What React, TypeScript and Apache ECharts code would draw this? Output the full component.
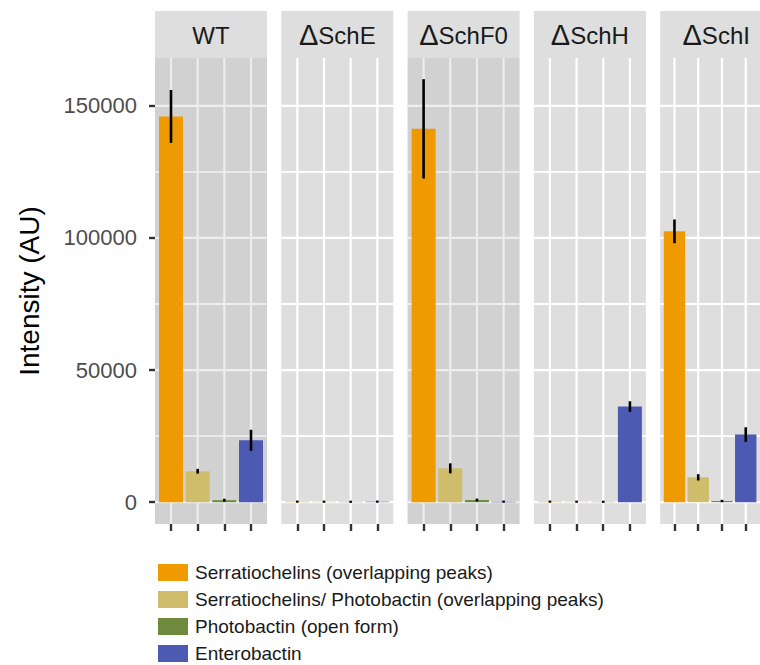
import React, { useEffect, useRef } from "react";
import * as echarts from "echarts";

const panels = ["WT", "ΔSchE", "ΔSchF0", "ΔSchH", "ΔSchI"];
const darkPanels = [true, false, true, false, false];
const compounds = [
  "Serratiochelins (overlapping peaks)",
  "Serratiochelins/ Photobactin (overlapping peaks)",
  "Photobactin (open form)",
  "Enterobactin",
];
const compoundColors = ["#EE9A00", "#CFBD6B", "#6E8B3D", "#4D5AB2"];

// values per panel (WT, ΔSchE, ΔSchF0, ΔSchH, ΔSchI)
const serratiochelins = [146000, 200, 141300, 200, 102500];
const serratioPhotobactin = [11700, 180, 12800, 180, 9400];
const photobactinOpen = [750, 150, 800, 150, 450];
const enterobactin = [23400, 200, 200, 36200, 25600];

const serratiochelinsErr = [10000, 400, 18800, 400, 4500];
const serratioPhotobactinErr = [900, 400, 1900, 400, 1200];
const photobactinOpenErr = [550, 400, 550, 400, 450];
const enterobactinErr = [4000, 400, 400, 2000, 2750];

const yTicks = [0, 50000, 100000, 150000];
const yGridLines = [0, 25000, 50000, 75000, 100000, 125000, 150000];
const xCats = [1, 2, 3, 4];

const values = [serratiochelins, serratioPhotobactin, photobactinOpen, enterobactin];
const errors = [serratiochelinsErr, serratioPhotobactinErr, photobactinOpenErr, enterobactinErr];

const FONT = "'Liberation Sans', Arial, Helvetica, sans-serif";

export default function App() {
  const ref = useRef<HTMLDivElement>(null);
  useEffect(() => {
    if (!ref.current) return;
    const chart = echarts.init(ref.current, null, { renderer: "svg" });

    // data range with ggplot-like 5% expansion
    let lo = 0;
    let hi = 0;
    values.forEach((arr, c) =>
      arr.forEach((v, p) => {
        lo = Math.min(lo, v - errors[c][p]);
        hi = Math.max(hi, v + errors[c][p]);
      })
    );
    lo = Math.min(0, lo);
    const span = hi - lo;
    const yMin = lo - span * 0.05;
    const yMax = hi + span * 0.05;
    const xMin = 0.4;
    const xMax = 4.6;

    const panelLeft0 = 155;
    const panelStep = 126.3;
    const panelW = 112;
    const gridTop = 58;
    const gridH = 466;

    const grids: any[] = [];
    const xAxes: any[] = [];
    const yAxes: any[] = [];
    const series: any[] = [];
    const graphics: any[] = [];

    panels.forEach((name, p) => {
      const left = panelLeft0 + p * panelStep;
      const dark = darkPanels[p];
      grids.push({
        left,
        top: gridTop,
        width: panelW,
        height: gridH,
        show: true,
        backgroundColor: dark ? "#D1D1D1" : "#DEDEDE",
        borderWidth: 0,
        containLabel: false,
      });
      xAxes.push({
        type: "value",
        gridIndex: p,
        position: "bottom",
        min: xMin,
        max: xMax,
        axisLine: { show: false, onZero: false },
        splitLine: { show: false },
        axisLabel: { show: false },
        axisTick: {
          show: true,
          customValues: xCats,
          length: 7,
          lineStyle: { color: "#333333", width: 2.4 },
        },
      });
      yAxes.push({
        type: "value",
        gridIndex: p,
        min: yMin,
        max: yMax,
        axisLine: { show: false, onZero: false },
        splitLine: { show: false },
        axisTick: {
          show: p === 0,
          customValues: yTicks,
          length: 6,
          lineStyle: { color: "#333333", width: 2.4 },
        },
        axisLabel: {
          show: p === 0,
          customValues: yTicks,
          formatter: (v: number) => String(v),
          margin: 18,
          fontSize: 22,
          color: "#4D4D4D",
          fontFamily: FONT,
        },
        name: p === 0 ? "Intensity (AU)" : "",
        nameLocation: "middle",
        nameRotate: 90,
        nameGap: 112,
        nameTextStyle: { fontSize: 28, color: "#000000", fontFamily: FONT },
      });

      const gridColor = dark ? "#EDEDED" : "#FFFFFF";
      // horizontal grid lines
      series.push({
        type: "custom",
        xAxisIndex: p,
        yAxisIndex: p,
        silent: true,
        z: 1,
        data: yGridLines.map((v) => [xMin, v]),
        renderItem: (_params: any, api: any) => {
          const v = api.value(1);
          const a = api.coord([xMin, v]);
          const b = api.coord([xMax, v]);
          return {
            type: "line",
            shape: { x1: a[0], y1: a[1], x2: b[0], y2: b[1] },
            style: { stroke: gridColor, lineWidth: v % 50000 === 0 ? 2.2 : 1.8 },
          };
        },
      });
      // vertical grid lines
      series.push({
        type: "custom",
        xAxisIndex: p,
        yAxisIndex: p,
        silent: true,
        z: 1,
        data: xCats.map((x) => [x, yMin]),
        renderItem: (_params: any, api: any) => {
          const x = api.value(0);
          const a = api.coord([x, yMin]);
          const b = api.coord([x, yMax]);
          return {
            type: "line",
            shape: { x1: a[0], y1: a[1], x2: b[0], y2: b[1] },
            style: { stroke: gridColor, lineWidth: 2.2 },
          };
        },
      });
      // bars
      compounds.forEach((cname, c) => {
        const color = compoundColors[c];
        series.push({
          type: "custom",
          name: cname,
          xAxisIndex: p,
          yAxisIndex: p,
          z: 2,
          itemStyle: { color },
          data: [[xCats[c], values[c][p]]],
          renderItem: (_params: any, api: any) => {
            const x = api.value(0);
            const v = api.value(1);
            const a = api.coord([x - 0.45, v]);
            const b = api.coord([x + 0.45, 0]);
            return {
              type: "rect",
              shape: {
                x: a[0],
                y: Math.min(a[1], b[1]),
                width: b[0] - a[0],
                height: Math.abs(b[1] - a[1]),
              },
              style: { fill: color },
            };
          },
        });
      });
      // error bars
      series.push({
        type: "custom",
        xAxisIndex: p,
        yAxisIndex: p,
        z: 3,
        silent: true,
        data: compounds.map((_n, c) => [
          xCats[c],
          values[c][p] - errors[c][p],
          values[c][p] + errors[c][p],
        ]),
        renderItem: (_params: any, api: any) => {
          const x = api.value(0);
          const a = api.coord([x, api.value(1)]);
          const b = api.coord([x, api.value(2)]);
          return {
            type: "line",
            shape: { x1: a[0], y1: a[1], x2: b[0], y2: b[1] },
            style: { stroke: "#000000", lineWidth: 2.6 },
          };
        },
      });

      // strip
      graphics.push({
        type: "rect",
        left,
        top: 11,
        shape: { x: 0, y: 0, width: panelW, height: 47 },
        style: { fill: "#DEDEDE" },
        silent: true,
      });
      const isDelta = name.startsWith("Δ");
      graphics.push({
        type: "text",
        x: left + panelW / 2,
        y: 35,
        style: {
          text: isDelta ? "{d|Δ}{t|" + name.slice(1) + "}" : "{t|" + name + "}",
          fill: "#1A1A1A",
          fontFamily: FONT,
          align: "center",
          verticalAlign: "middle",
          rich: {
            d: { fontSize: 29, fontFamily: FONT, fill: "#1A1A1A" },
            t: { fontSize: 24, fontFamily: FONT, fill: "#1A1A1A" },
          },
        },
        silent: true,
      });
    });

    chart.setOption({
      animation: false,
      backgroundColor: "#FFFFFF",
      grid: grids,
      xAxis: xAxes,
      yAxis: yAxes,
      series,
      graphic: graphics,
      legend: {
        data: compounds,
        orient: "vertical",
        left: 158,
        top: 563,
        height: 130,
        padding: 0,
        icon: "rect",
        itemWidth: 30,
        itemHeight: 17,
        itemGap: 8,
        selectedMode: false,
        textStyle: {
          fontSize: 19,
          color: "#1A1A1A",
          fontFamily: FONT,
          padding: [0, 0, 0, 2],
        },
      },
    });
    return () => chart.dispose();
  }, []);
  return (
    <div
      ref={ref}
      style={{ position: "fixed", left: 0, top: 0, width: 760, height: 665 }}
    />
  );
}
